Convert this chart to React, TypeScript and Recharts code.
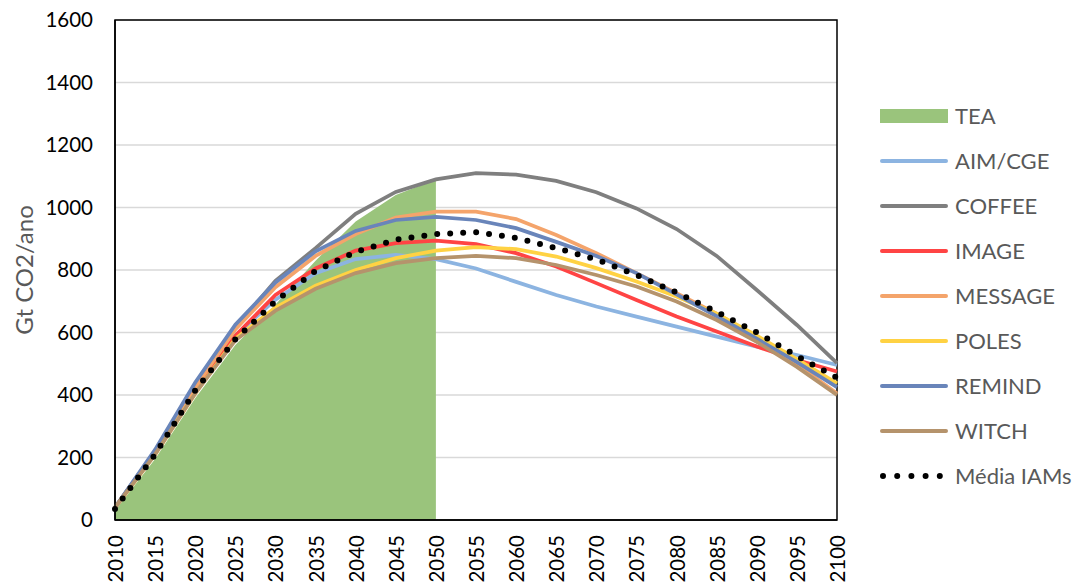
import React from 'react';
import { ComposedChart, Area, Line, XAxis, YAxis, CartesianGrid, ReferenceArea } from 'recharts';

const years = [2010, 2015, 2020, 2025, 2030, 2035, 2040, 2045, 2050, 2055, 2060, 2065, 2070, 2075, 2080, 2085, 2090, 2095, 2100];
const yTicks = [0, 200, 400, 600, 800, 1000, 1200, 1400, 1600];

const tea = [30, 195, 390, 560, 690, 830, 955, 1040, 1090, null, null, null, null, null, null, null, null, null, null];
const aimCge = [40, 215, 415, 590, 705, 790, 835, 848, 835, 805, 762, 720, 683, 651, 619, 587, 555, 528, 496];
const coffee = [40, 220, 430, 615, 765, 870, 980, 1050, 1090, 1110, 1105, 1085, 1049, 997, 931, 845, 736, 624, 502];
const image = [40, 215, 420, 590, 720, 805, 862, 886, 894, 883, 854, 811, 758, 704, 651, 603, 555, 512, 475];
const message = [40, 220, 425, 610, 745, 845, 915, 968, 987, 987, 963, 912, 854, 790, 726, 660, 585, 498, 405];
const poles = [40, 210, 405, 580, 680, 750, 800, 838, 862, 873, 867, 843, 806, 763, 715, 660, 590, 515, 437];
const remind = [40, 225, 440, 625, 760, 860, 925, 960, 970, 960, 934, 890, 845, 790, 722, 652, 580, 505, 425];
const witch = [40, 210, 405, 575, 670, 740, 790, 822, 838, 845, 838, 816, 784, 747, 699, 640, 570, 490, 400];
const media = [35, 210, 415, 578, 700, 797, 858, 897, 915, 921, 903, 870, 834, 784, 728, 666, 600, 525, 455];

const models = [
  { key: 'AIM/CGE', values: aimCge, color: '#8cb4e1' },
  { key: 'COFFEE', values: coffee, color: '#7f7f7f' },
  { key: 'IMAGE', values: image, color: '#ff4444' },
  { key: 'MESSAGE', values: message, color: '#f4a46b' },
  { key: 'POLES', values: poles, color: '#ffd243' },
  { key: 'REMIND', values: remind, color: '#6985ba' },
  { key: 'WITCH', values: witch, color: '#b5936c' },
];

const data = years.map((year, i) => {
  const row: any = { year, TEA: tea[i], media: media[i] };
  models.forEach((m) => {
    row[m.key] = m.values[i];
  });
  return row;
});

const FONT = 'Lato, "Open Sans", sans-serif';

const XTick = ({ x, y, payload }: any) => (
  <text
    x={x}
    y={y}
    transform={`rotate(-90 ${x} ${y})`}
    textAnchor="end"
    dominantBaseline="central"
    fontSize={20.5}
    fontFamily={FONT}
    fill="#000"
  >
    {payload.value}
  </text>
);

const legendItems = [
  { label: 'TEA', kind: 'area', color: '#9ac47c' },
  ...models.map((m) => ({ label: m.key, kind: 'line', color: m.color })),
  { label: 'Média IAMs', kind: 'dots', color: '#000' },
];

function ChartLegend() {
  return (
    <div style={{ position: 'absolute', left: 880, top: 93, width: 198 }}>
      {legendItems.map((item) => (
        <div key={item.label} style={{ height: 45, display: 'flex', alignItems: 'center' }}>
          <svg width={68} height={20} style={{ flex: 'none' }}>
            {item.kind === 'area' && <rect x={0} y={3} width={68} height={14} fill={item.color} />}
            {item.kind === 'line' && (
              <line x1={2} y1={10} x2={66} y2={10} stroke={item.color} strokeWidth={4} strokeLinecap="round" />
            )}
            {item.kind === 'dots' && (
              <line x1={3} y1={10} x2={66} y2={10} stroke="#000" strokeWidth={6} strokeLinecap="round" strokeDasharray="0 14.2" />
            )}
          </svg>
          <span style={{ marginLeft: 7, fontSize: 22, color: '#595959', fontFamily: FONT, whiteSpace: 'nowrap' }}>
            {item.label}
          </span>
        </div>
      ))}
    </div>
  );
}

export default function App() {
  return (
    <div style={{ position: 'absolute', left: 0, top: 0, width: 1078, height: 586, background: '#fff', overflow: 'hidden' }}>
      <ComposedChart width={1078} height={586} data={data} margin={{ top: 20, right: 241, bottom: 0, left: 0 }}>
        <CartesianGrid vertical={false} stroke="#d9d9d9" strokeWidth={1.5} />
        <XAxis
          dataKey="year"
          type="number"
          domain={[2010, 2100]}
          ticks={years}
          interval={0}
          height={66}
          tickSize={0}
          tickMargin={15}
          tick={<XTick />}
          axisLine={{ stroke: '#000', strokeWidth: 1.5 }}
        />
        <YAxis
          domain={[0, 1600]}
          ticks={yTicks}
          width={115}
          tickSize={0}
          tickMargin={22}
          tick={{ fill: '#000', fontSize: 20.5, fontFamily: FONT }}
          axisLine={{ stroke: '#000', strokeWidth: 1.5 }}
          label={{
            content: () => (
              <text
                x={23}
                y={270}
                transform="rotate(-90 23 270)"
                textAnchor="middle"
                dominantBaseline="central"
                fontSize={24}
                fontFamily={FONT}
                fill="#595959"
              >
                Gt CO2/ano
              </text>
            ),
          }}
        />
        <Area
          dataKey="TEA"
          type="linear"
          fill="#9ac47c"
          fillOpacity={1}
          stroke="none"
          isAnimationActive={false}
          dot={false}
          activeDot={false}
        />
        {models.map((m) => (
          <Line
            key={m.key}
            dataKey={m.key}
            type="linear"
            stroke={m.color}
            strokeWidth={3.75}
            dot={false}
            activeDot={false}
            isAnimationActive={false}
          />
        ))}
        <Line
          dataKey="media"
          type="linear"
          stroke="#000"
          strokeWidth={6}
          strokeLinecap="round"
          strokeDasharray="0 13"
          dot={false}
          activeDot={false}
          isAnimationActive={false}
        />
        <ReferenceArea x1={2010} x2={2100} y1={0} y2={1600} fill="none" stroke="#000" strokeWidth={1.5} />
      </ComposedChart>
      <ChartLegend />
    </div>
  );
}
